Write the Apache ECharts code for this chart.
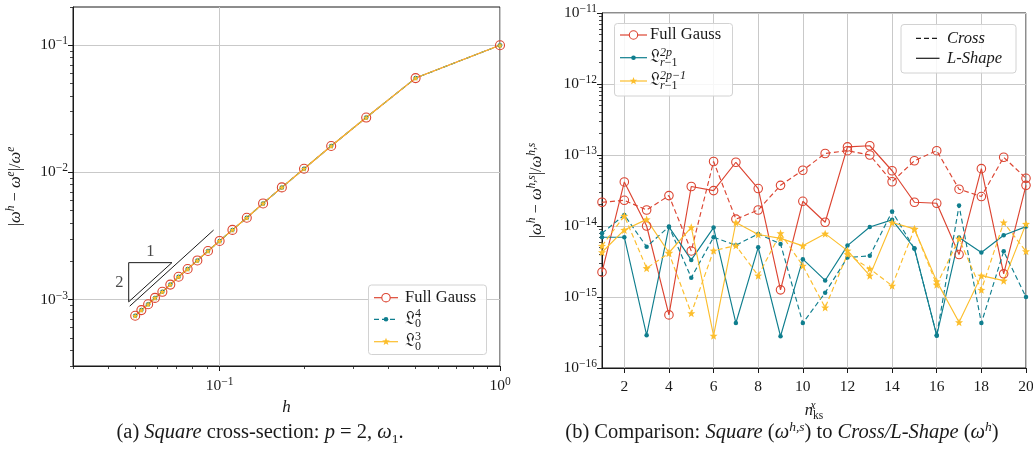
<!DOCTYPE html>
<html><head><meta charset="utf-8">
<script src="https://cdn.jsdelivr.net/npm/echarts@6/dist/echarts.min.js"></script>
<style>html,body{margin:0;padding:0;background:#fff}#c{width:1033px;height:451px}</style>
</head><body><div id="c"></div>
<script>
// ---------- Left panel data: (a) Square cross-section, p = 2, omega_1 ----------
const hValues = [1, 0.5, 0.3333, 0.25, 0.2, 0.1667, 0.1429, 0.125, 0.1111, 0.1, 0.0909, 0.0833, 0.0769, 0.0714, 0.0667, 0.0625, 0.0588, 0.0556, 0.0526, 0.05];
const errFullGauss = [0.1, 0.0552, 0.0270, 0.01614, 0.01069, 0.00762, 0.00570, 0.00440, 0.00353, 0.00289, 0.00241, 0.00203, 0.00174, 0.00151, 0.00131, 0.00115, 0.00103, 0.000918, 0.000826, 0.000745];
const errL04 = [0.1, 0.0552, 0.0270, 0.01614, 0.01069, 0.00762, 0.00570, 0.00440, 0.00353, 0.00289, 0.00241, 0.00203, 0.00174, 0.00151, 0.00131, 0.00115, 0.00103, 0.000918, 0.000826, 0.000745];
const errL03 = [0.1, 0.0552, 0.0270, 0.01614, 0.01069, 0.00762, 0.00570, 0.00440, 0.00353, 0.00289, 0.00241, 0.00203, 0.00174, 0.00151, 0.00131, 0.00115, 0.00103, 0.000918, 0.000826, 0.000745];
const slopeTriangle = [[0.0676, 0.00195], [0.0474, 0.00195], [0.0474, 0.000959], [0.0676, 0.00195]];
const slopeGuide = [[0.0478, 0.000887], [0.0952, 0.003519]];
const slopeLabels = [{ name: '1', value: [0.0566, 0.00237] }, { name: '2', value: [0.0439, 0.001355] }];
const xTicksLeftMajor = [0.1, 1];
const xTicksLeftMinor = [0.03, 0.04, 0.05, 0.06, 0.07, 0.08, 0.09, 0.2, 0.3, 0.4, 0.5, 0.6, 0.7, 0.8, 0.9];
const yTicksLeftMajor = [0.001, 0.01, 0.1];
const yTicksLeftMinor = [0.0003, 0.0004, 0.0005, 0.0006, 0.0007, 0.0008, 0.0009, 0.002, 0.003, 0.004, 0.005, 0.006, 0.007, 0.008, 0.009, 0.02, 0.03, 0.04, 0.05, 0.06, 0.07, 0.08, 0.09, 0.2];

// ---------- Right panel data: (b) Square vs Cross / L-Shape ----------
const nKs = [1, 2, 3, 4, 5, 6, 7, 8, 9, 10, 11, 12, 13, 14, 15, 16, 17, 18, 19, 20];
const fgCross = [2.16e-14, 2.30e-14, 1.68e-14, 2.68e-14, 4.45e-15, 8.1e-14, 1.25e-14, 1.68e-14, 3.74e-14, 6.1e-14, 1.05e-13, 1.15e-13, 1.0e-13, 4.2e-14, 8.3e-14, 1.15e-13, 3.3e-14, 2.6e-14, 9.3e-14, 4.7e-14];
const fgLShape = [2.24e-15, 4.17e-14, 1.0e-14, 5.6e-16, 3.6e-14, 3.15e-14, 7.9e-14, 3.37e-14, 1.26e-15, 2.23e-14, 1.13e-14, 1.30e-13, 1.35e-13, 6.0e-14, 2.16e-14, 2.09e-14, 3.96e-15, 6.42e-14, 2.12e-15, 3.74e-14];
const l2pCross = [7.9e-15, 1.43e-14, 5.1e-15, 9.8e-15, 1.87e-15, 6.95e-15, 5.36e-15, 7.74e-15, 5.6e-15, 4.3e-16, 1.15e-15, 3.6e-15, 3.8e-15, 1.6e-14, 4.8e-15, 2.9e-16, 1.94e-14, 4.3e-16, 4.4e-15, 1.0e-15];
const l2pLShape = [6.95e-15, 6.95e-15, 2.9e-16, 9.7e-15, 3.33e-15, 9.5e-15, 4.3e-16, 5.0e-15, 2.8e-16, 3.41e-15, 1.71e-15, 5.3e-15, 9.7e-15, 1.22e-14, 4.86e-15, 2.85e-16, 6.87e-15, 4.23e-15, 7.41e-15, 9.8e-15];
const l2pm1Cross = [5.25e-15, 1.39e-14, 2.55e-15, 4.15e-15, 5.9e-16, 4.5e-15, 5.3e-15, 2.0e-15, 7.9e-15, 2.75e-15, 7.1e-16, 4.0e-15, 2.5e-15, 1.44e-15, 9.1e-15, 1.49e-15, 6.6e-15, 1.26e-15, 1.12e-14, 4.4e-15];
const l2pm1LShape = [4.27e-15, 8.8e-15, 1.24e-14, 4.2e-15, 9.6e-15, 2.85e-16, 1.12e-14, 7.6e-15, 6.7e-15, 5.25e-15, 7.8e-15, 4.5e-15, 2.0e-15, 1.12e-14, 9.1e-15, 1.66e-15, 4.4e-16, 2.0e-15, 1.7e-15, 1.07e-14];
const xTicksRight = [2, 4, 6, 8, 10, 12, 14, 16, 18, 20];
const yTicksRightMajor = [1e-16, 1e-15, 1e-14, 1e-13, 1e-12, 1e-11];
const minorMultipliers = [2, 3, 4, 5, 6, 7, 8, 9];
const yTicksRightMinor = [];
yTicksRightMajor.slice(0, -1).forEach(d => minorMultipliers.forEach(m => yTicksRightMinor.push(parseFloat((m * d).toPrecision(3)))));

// ---------- style ----------
const SERIF = "'Liberation Serif', 'DejaVu Serif', serif";
const RED = '#DC4431', TEAL = '#0F7E8E', YEL = '#FCBE2C', INK = '#1a1a1a', GRIDC = '#c9c9c9';
const starPts = (cx, cy, R) => { const p = []; for (let i = 0; i < 10; i++) { const r = i % 2 ? R * 0.42 : R; const a = -Math.PI / 2 + i * Math.PI / 5; p.push([cx + r * Math.cos(a), cy + r * Math.sin(a)]); } return p; };
const STAR = 'path://M' + starPts(50, 50, 50).map(p => p[0].toFixed(2) + ',' + p[1].toFixed(2)).join('L') + 'Z';

const tickRich = {
  b: { fontFamily: SERIF, fontSize: 15.5, lineHeight: 20, color: INK },
  s: { fontFamily: SERIF, fontSize: 11.5, lineHeight: 8, verticalAlign: 'top', color: INK }
};
const powLabel = v => { const e = Math.round(Math.log10(v)); return '{b|10}{s|' + (e < 0 ? '\u2212' : '') + Math.abs(e) + '}'; };
const nameRich = {
  r: { fontFamily: SERIF, fontSize: 16.5, lineHeight: 22, color: INK },
  i: { fontFamily: SERIF, fontSize: 16.5, lineHeight: 22, fontStyle: 'italic', color: INK },
  s: { fontFamily: SERIF, fontSize: 11.5, lineHeight: 10, fontStyle: 'italic', verticalAlign: 'top', color: INK },
  sz: { fontFamily: SERIF, fontSize: 11.5, lineHeight: 10, fontStyle: 'italic', verticalAlign: 'top', width: 0, color: INK },
  b: { fontFamily: SERIF, fontSize: 11.5, lineHeight: 6, verticalAlign: 'bottom', color: INK }
};

function majorAxis(extra) {
  return Object.assign({
    axisLine: { show: true, lineStyle: { color: INK, width: 1 } },
    axisTick: { show: true, length: 5, lineStyle: { color: INK, width: 1 } },
    splitLine: { show: true, lineStyle: { color: GRIDC, width: 1 } }
  }, extra);
}
function minorAxis(extra) {
  return Object.assign({
    axisLine: { show: false },
    axisTick: { show: true, length: 3, lineStyle: { color: INK, width: 0.8 } },
    axisLabel: { show: false },
    splitLine: { show: false }
  }, extra);
}

const xAxes = [
  majorAxis({ gridIndex: 0, type: 'log', min: 0.03, max: 1, position: 'bottom',
    axisTick: { show: true, length: 5, customValues: xTicksLeftMajor, lineStyle: { color: INK } },
    axisLabel: { customValues: xTicksLeftMajor, formatter: powLabel, rich: tickRich, margin: 10 },
    name: 'h', nameLocation: 'middle', nameGap: 31,
    nameTextStyle: { fontFamily: SERIF, fontStyle: 'italic', fontSize: 17, color: INK } }),
  minorAxis({ gridIndex: 0, type: 'log', min: 0.03, max: 1, position: 'bottom',
    axisTick: { show: true, length: 3, customValues: xTicksLeftMinor, lineStyle: { color: INK, width: 0.8 } } }),
  majorAxis({ gridIndex: 1, type: 'value', min: 1, max: 20, position: 'bottom',
    axisTick: { show: true, length: 5, customValues: xTicksRight, lineStyle: { color: INK } },
    axisLabel: { customValues: xTicksRight, fontFamily: SERIF, fontSize: 15.5, color: INK, margin: 11 },
    name: '{i|n}{sz|x}{b|ks}', nameLocation: 'middle', nameGap: 32,
    nameTextStyle: { rich: nameRich } })
];
const yAxes = [
  majorAxis({ gridIndex: 0, type: 'log', min: 0.0003, max: 0.2, position: 'left',
    axisTick: { show: true, length: 5, customValues: yTicksLeftMajor, lineStyle: { color: INK } },
    axisLabel: { customValues: yTicksLeftMajor, formatter: powLabel, rich: tickRich, margin: 5 },
    name: '{r||}{i|ω}{s|h}{r| − }{i|ω}{s|e}{r||/}{i|ω}{s|e}', nameLocation: 'middle', nameGap: 46,
    nameTextStyle: { rich: nameRich } }),
  minorAxis({ gridIndex: 0, type: 'log', min: 0.0003, max: 0.2, position: 'left',
    axisTick: { show: true, length: 3, customValues: yTicksLeftMinor, lineStyle: { color: INK, width: 0.8 } } }),
  majorAxis({ gridIndex: 1, type: 'log', min: 1e-16, max: 1e-11, position: 'left',
    axisTick: { show: true, length: 5, customValues: yTicksRightMajor, lineStyle: { color: INK } },
    axisLabel: { customValues: yTicksRightMajor, formatter: powLabel, rich: tickRich, margin: 5 },
    name: '{r||}{i|ω}{s|h}{r| − }{i|ω}{s|h,s}{r||/}{i|ω}{s|h,s}', nameLocation: 'middle', nameGap: 54,
    nameTextStyle: { rich: nameRich } }),
  minorAxis({ gridIndex: 1, type: 'log', min: 1e-16, max: 1e-11, position: 'left',
    axisTick: { show: true, length: 3, customValues: yTicksRightMinor, lineStyle: { color: INK, width: 0.8 } } })
];

const pairs = (xs, ys) => xs.map((x, i) => [x, ys[i]]);
const hollowCircle = (size) => ({ symbol: 'circle', symbolSize: size, itemStyle: { color: 'rgba(255,255,255,0)', borderColor: RED, borderWidth: 1.1 } });
function lineSeries(name, grid, data, color, dashed, marker) {
  const s = { name, type: 'line', xAxisIndex: grid === 0 ? 0 : 2, yAxisIndex: grid === 0 ? 0 : 2,
    data, showSymbol: true, silent: true, animation: false,
    lineStyle: { color, width: 1.15, type: dashed ? [5, 3] : 'solid' } };
  if (marker === 'circle') Object.assign(s, hollowCircle(grid === 0 ? 9 : 8.5));
  else if (marker === 'dot') Object.assign(s, { symbol: 'circle', symbolSize: 4.5, itemStyle: { color } });
  else Object.assign(s, { symbol: STAR, symbolSize: grid === 0 ? 6 : 8, itemStyle: { color } });
  return s;
}

const series = [
  lineSeries('Full Gauss (a)', 0, pairs(hValues, errFullGauss), RED, false, 'circle'),
  lineSeries('L04', 0, pairs(hValues, errL04), TEAL, true, 'dot'),
  lineSeries('L03', 0, pairs(hValues, errL03), YEL, false, 'star'),
  { name: 'slope', type: 'line', xAxisIndex: 0, yAxisIndex: 0, data: slopeTriangle, symbol: 'none', silent: true, lineStyle: { color: INK, width: 1 } },
  { name: 'guide', type: 'line', xAxisIndex: 0, yAxisIndex: 0, data: slopeGuide, symbol: 'none', silent: true, lineStyle: { color: INK, width: 1 } },
  { name: 'slopeLabels', type: 'scatter', xAxisIndex: 0, yAxisIndex: 0, data: slopeLabels, symbolSize: 0, silent: true,
    label: { show: true, position: 'inside', formatter: p => p.name, fontFamily: SERIF, fontSize: 16.5, color: INK } },
  lineSeries('Full Gauss Cross', 1, pairs(nKs, fgCross), RED, true, 'circle'),
  lineSeries('Full Gauss L-Shape', 1, pairs(nKs, fgLShape), RED, false, 'circle'),
  lineSeries('L2p Cross', 1, pairs(nKs, l2pCross), TEAL, true, 'dot'),
  lineSeries('L2p L-Shape', 1, pairs(nKs, l2pLShape), TEAL, false, 'dot'),
  lineSeries('L2p-1 Cross', 1, pairs(nKs, l2pm1Cross), YEL, true, 'star'),
  lineSeries('L2p-1 L-Shape', 1, pairs(nKs, l2pm1LShape), YEL, false, 'star')
];

// ---------- legends & captions (graphic) ----------
const zrRich = {
  r: { fontFamily: SERIF, fontSize: 16.5, lineHeight: 22, fill: INK },
  i: { fontFamily: SERIF, fontSize: 16.5, lineHeight: 22, fontStyle: 'italic', fill: INK },
  L: { fontFamily: "'DejaVu Serif', 'DejaVu Sans', serif", fontSize: 17, lineHeight: 22, fill: INK },
  sp: { fontFamily: SERIF, fontSize: 12, lineHeight: 8, verticalAlign: 'top', width: 0, fill: INK },
  spi: { fontFamily: SERIF, fontSize: 12, lineHeight: 8, fontStyle: 'italic', verticalAlign: 'top', width: 0, fill: INK },
  sb: { fontFamily: SERIF, fontSize: 12, lineHeight: 6, verticalAlign: 'bottom', fill: INK },
  sbi: { fontFamily: SERIF, fontSize: 12, lineHeight: 6, fontStyle: 'italic', verticalAlign: 'bottom', fill: INK },
  cs: { fontFamily: SERIF, fontSize: 20.5, lineHeight: 26, fill: INK },
  ci: { fontFamily: SERIF, fontSize: 20.5, lineHeight: 26, fontStyle: 'italic', fill: INK },
  csup: { fontFamily: SERIF, fontSize: 13.5, lineHeight: 11, fontStyle: 'italic', verticalAlign: 'top', fill: INK },
  csub: { fontFamily: SERIF, fontSize: 13.5, lineHeight: 8, verticalAlign: 'bottom', fill: INK }
};
function legendBox(x, y, w, h) {
  return { type: 'rect', z: 100, shape: { x, y, width: w, height: h, r: 3 }, style: { fill: 'rgba(255,255,255,0.85)', stroke: '#d2d2d2', lineWidth: 1 } };
}
function legendEntry(x1, x2, y, color, dashed, marker, text, textX) {
  const els = [{ type: 'line', z: 101, shape: { x1, y1: y, x2, y2: y }, style: { stroke: color, lineWidth: 1.2, lineDash: dashed ? [5, 3] : null } }];
  const cx = (x1 + x2) / 2;
  if (marker === 'circle') els.push({ type: 'circle', z: 102, shape: { cx, cy: y, r: 4.2 }, style: { fill: '#fff', stroke: color, lineWidth: 1.1 } });
  else if (marker === 'dot') els.push({ type: 'circle', z: 102, shape: { cx, cy: y, r: 2.3 }, style: { fill: color } });
  else if (marker === 'star') els.push({ type: 'polygon', z: 102, shape: { points: starPts(cx, y, 4) }, style: { fill: color } });
  els.push({ type: 'text', z: 102, x: textX, y, style: { text, rich: zrRich, fontFamily: SERIF, fontSize: 16.5, fill: INK, align: 'left', verticalAlign: 'middle' } });
  return els;
}
const graphic = [
  legendBox(368.5, 285, 118, 69.5),
  ...legendEntry(374, 398, 297.7, RED, false, 'circle', '{r|Full Gauss}', 405),
  ...legendEntry(374, 398, 319.3, TEAL, true, 'dot', '{L|𝔏}{sp|4}{sb|0}', 405),
  ...legendEntry(374, 398, 341.7, YEL, false, 'star', '{L|𝔏}{sp|3}{sb|0}', 405),
  legendBox(614.5, 23.5, 118, 72.5),
  ...legendEntry(620, 647, 35, RED, false, 'circle', '{r|Full Gauss}', 650),
  ...legendEntry(620, 647, 57.7, TEAL, false, 'dot', '{L|𝔏}{spi|2p}{sbi|r}{sb|−1}', 650),
  ...legendEntry(620, 647, 81, YEL, false, 'star', '{L|𝔏}{spi|2p−1}{sbi|r}{sb|−1}', 650),
  legendBox(901, 24.5, 115, 48.5),
  ...legendEntry(916, 939.5, 38.3, INK, true, null, '{i|Cross}', 947),
  ...legendEntry(916, 939.5, 58.3, INK, false, null, '{i|L-Shape}', 947),
  { type: 'text', z: 100, x: 260, y: 433, style: { text: '{cs|(a) }{ci|Square}{cs| cross-section: }{ci|p}{cs| = 2, }{ci|ω}{csub|1}{cs|.}', rich: zrRich, align: 'center', verticalAlign: 'middle' } },
  { type: 'text', z: 100, x: 782, y: 433, style: { text: '{cs|(b) Comparison: }{ci|Square}{cs| (}{ci|ω}{csup|h,s}{cs|) to }{ci|Cross/L-Shape}{cs| (}{ci|ω}{csup|h}{cs|)}', rich: zrRich, align: 'center', verticalAlign: 'middle' } }
];

const chart = echarts.init(document.getElementById('c'), null, { renderer: 'canvas' });
chart.setOption({
  animation: false,
  backgroundColor: '#fff',
  grid: [
    { left: 73, top: 7, width: 427, height: 359, show: true, borderColor: INK, borderWidth: 1, backgroundColor: 'transparent', containLabel: false, outerBoundsMode: 'none' },
    { left: 602, top: 13, width: 424, height: 355, show: true, borderColor: INK, borderWidth: 1, backgroundColor: 'transparent', containLabel: false, outerBoundsMode: 'none' }
  ],
  xAxis: xAxes,
  yAxis: yAxes,
  series,
  graphic
});
</script></body></html>
